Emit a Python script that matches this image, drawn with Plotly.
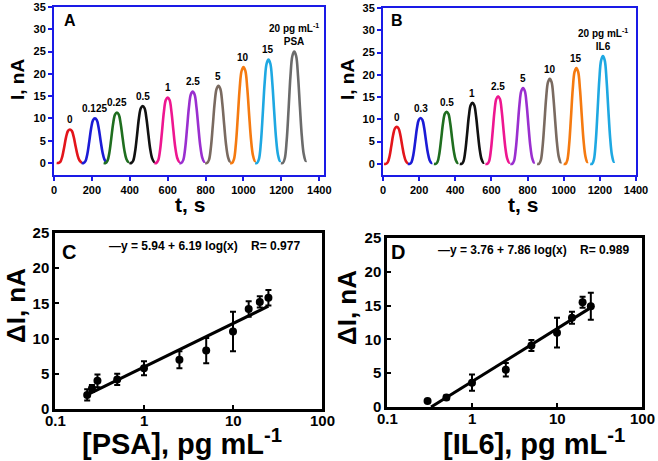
import math
import plotly.graph_objects as go

W, H = 658, 461

# ---------------- data ----------------
# Panel A (PSA) peaks
psa_labels = ["0", "0.125", "0.25", "0.5", "1", "2.5", "5", "10", "15", "20 pg mL<sup>-1</sup><br>PSA"]
psa_centers = [84, 216, 332, 468, 600, 732, 868, 1000, 1132, 1268]
psa_heights = [7.5, 10.0, 11.3, 12.8, 14.7, 16.0, 17.3, 21.5, 23.2, 25.0]
# Panel B (IL6) peaks
il6_labels = ["0", "0.3", "0.5", "1", "2.5", "5", "10", "15", "20 pg mL<sup>-1</sup><br>IL6"]
il6_centers = [76, 208, 352, 495, 637, 775, 923, 1070, 1217]
il6_heights = [8.3, 10.3, 11.7, 13.7, 15.2, 17.0, 19.1, 21.5, 24.2]
# shared peak profile (offset in s, fraction of peak height)
shape_dt = [-70, -60, -50, -40, -30, -20, -10, 0, 10, 20, 30, 40, 50, 60, 65]
shape_fr = [0.0, 0.0, 0.04, 0.2, 0.48, 0.78, 0.96, 1.0, 0.96, 0.78, 0.5, 0.24, 0.08, 0.02, 0.02]

peak_colors = ["#e3151b", "#1b1bd6", "#1f6e1f", "#111111", "#ee1690",
               "#9a2fcf", "#7a6a60", "#f57a10", "#1ea8e2", "#6b6b6b"]

# Panel C calibration (PSA)
psa_x = [0.23, 0.26, 0.3, 0.5, 1, 2.5, 5, 10, 15, 20, 25]
psa_y = [2.0, 2.9, 4.0, 4.2, 5.8, 7.0, 8.3, 11.0, 14.2, 15.2, 15.8]
psa_err = [0.8, 0.5, 0.9, 0.8, 1.0, 1.2, 1.8, 2.8, 1.1, 0.8, 1.1]
psa_fit_x = [0.22, 25]
psa_fit_y = [1.9, 14.6]

# Panel D calibration (IL6)
il6_x = [0.3, 0.5, 1, 2.5, 5, 10, 15, 20, 25]
il6_y = [0.9, 1.4, 3.6, 5.5, 9.1, 11.0, 13.2, 15.5, 14.9]
il6_err = [0.0, 0.3, 1.2, 1.0, 0.8, 2.2, 0.9, 0.8, 2.0]
il6_fit_x = [0.33, 25]
il6_fit_y = [0.0, 14.7]

t_ticks = [0, 200, 400, 600, 800, 1000, 1200, 1400]
i_ticks = [0, 5, 10, 15, 20, 25, 30, 35]
d_ticks = [0, 5, 10, 15, 20, 25]
c_ticks = [0.1, 1, 10, 100]
c_ticktext = ["0.1", "1", "10", "100"]

FONT = "Liberation Sans"
BLUE = "#1a1ae6"


def px_x(p):
    return p / W


def px_y(p):
    return 1 - p / H


fig = go.Figure()

# ---------------- peaks ----------------
def add_peaks(centers, heights, labels, xa, ya):
    for i, (c, h) in enumerate(zip(centers, heights)):
        xs = [c + d for d in shape_dt]
        ys = [h * f for f in shape_fr]
        fig.add_trace(go.Scatter(x=xs, y=ys, mode="lines", xaxis=xa, yaxis=ya,
                                 line=dict(color=peak_colors[i], width=2.6, shape="spline"),
                                 showlegend=False, hoverinfo="skip"))
        fig.add_annotation(x=c, y=h + 0.5, xref=xa, yref=ya, text=labels[i],
                           showarrow=False, yanchor="bottom",
                           font=dict(family=FONT, size=10, color="black", weight="bold"))


add_peaks(psa_centers, psa_heights, psa_labels, "x", "y")
add_peaks(il6_centers, il6_heights, il6_labels, "x2", "y2")

# ---------------- calibration ----------------
def add_calib(xv, yv, ev, fx, fy, xa, ya):
    fig.add_trace(go.Scatter(x=fx, y=fy, mode="lines", xaxis=xa, yaxis=ya,
                             line=dict(color="black", width=3), showlegend=False))
    fig.add_trace(go.Scatter(x=xv, y=yv, mode="markers", xaxis=xa, yaxis=ya,
                             marker=dict(color="black", size=8),
                             error_y=dict(type="data", array=ev, visible=True,
                                          color="black", thickness=2, width=3),
                             showlegend=False))


add_calib(psa_x, psa_y, psa_err, psa_fit_x, psa_fit_y, "x3", "y3")
add_calib(il6_x, il6_y, il6_err, il6_fit_x, il6_fit_y, "x4", "y4")

tick_small = dict(family=FONT, size=11, color="black", weight="bold")
tick_big = dict(family=FONT, size=15, color="black", weight="bold")

axA = dict(showline=True, mirror=True, linecolor=BLUE, linewidth=2, ticks="outside",
           ticklen=4, tickcolor=BLUE, tickwidth=1.5, showgrid=False, zeroline=False,
           tickfont=tick_small, automargin=False)
axC = dict(showline=True, mirror=True, linecolor="black", linewidth=2.5, ticks="inside",
           ticklen=4, tickcolor="black", tickwidth=2, showgrid=False, zeroline=False,
           tickfont=tick_big, automargin=False)

fig.update_layout(
    width=W, height=H, margin=dict(l=0, r=0, t=0, b=0),
    paper_bgcolor="white", plot_bgcolor="white", showlegend=False,
    xaxis=dict(axA, domain=[px_x(54), px_x(324)], range=[0, 1425], tickvals=t_ticks, anchor="y"),
    yaxis=dict(axA, domain=[px_y(175), px_y(7)], range=[-2.7, 35], tickvals=i_ticks, anchor="x"),
    xaxis2=dict(axA, domain=[px_x(383), px_x(636)], range=[0, 1400], tickvals=t_ticks, anchor="y2"),
    yaxis2=dict(axA, domain=[px_y(175), px_y(8)], range=[-2.5, 35], tickvals=i_ticks, anchor="x2"),
    xaxis3=dict(axC, domain=[px_x(55), px_x(322)], type="log", range=[-1, 2], tickvals=c_ticks,
                showticklabels=False, anchor="y3"),
    yaxis3=dict(axC, domain=[px_y(409), px_y(233)], range=[0, 25], tickvals=d_ticks, anchor="x3"),
    xaxis4=dict(axC, domain=[px_x(387), px_x(642)], type="log", range=[-1, 2], tickvals=c_ticks,
                showticklabels=False, anchor="y4"),
    yaxis4=dict(axC, domain=[px_y(407), px_y(238)], range=[0, 25], tickvals=d_ticks, anchor="x4"),
)

# log-axis tick labels placed close to the axis, as in the original
# (annotations on a log axis take log10 coordinates)
for xa, ypx in (("x3", 420), ("x4", 418)):
    for v, t in zip(c_ticks, c_ticktext):
        fig.add_annotation(x=math.log10(v), xref=xa, y=px_y(ypx), yref="paper", text=t,
                           showarrow=False, yanchor="middle",
                           font=tick_big)


def ann(x, y, text, size, angle=0, xanchor="center"):
    fig.add_annotation(x=px_x(x), y=px_y(y), xref="paper", yref="paper", text=text,
                       showarrow=False, textangle=angle, xanchor=xanchor, yanchor="middle",
                       font=dict(family=FONT, size=size, color="black", weight="bold"))


# axis titles
ann(17, 80, "I, nA", 19, -90)
ann(347, 80, "I, nA", 19, -90)
ann(190, 204, "t, s", 21)
ann(523, 204, "t, s", 21)
ann(16, 306, "ΔI, nA", 26, -90)
ann(347, 308, "ΔI, nA", 26, -90)
ann(182, 442, "[PSA], pg mL<sup>-1</sup>", 29)
ann(534, 442, "[IL6], pg mL<sup>-1</sup>", 29)

# panel letters
ann(70, 21, "A", 16)
ann(397, 21, "B", 16)
ann(69, 252, "C", 20)
ann(398, 252, "D", 20)

# fit legends
ann(107, 246, "—y = 5.94 + 6.19 log(x)    R= 0.977", 12, 0, "left")
ann(436, 250, "—y = 3.76 + 7.86 log(x)    R= 0.989", 12, 0, "left")

fig.write_html("out.html", config={"displayModeBar": False},
               post_script="document.body.style.margin='0px';")
